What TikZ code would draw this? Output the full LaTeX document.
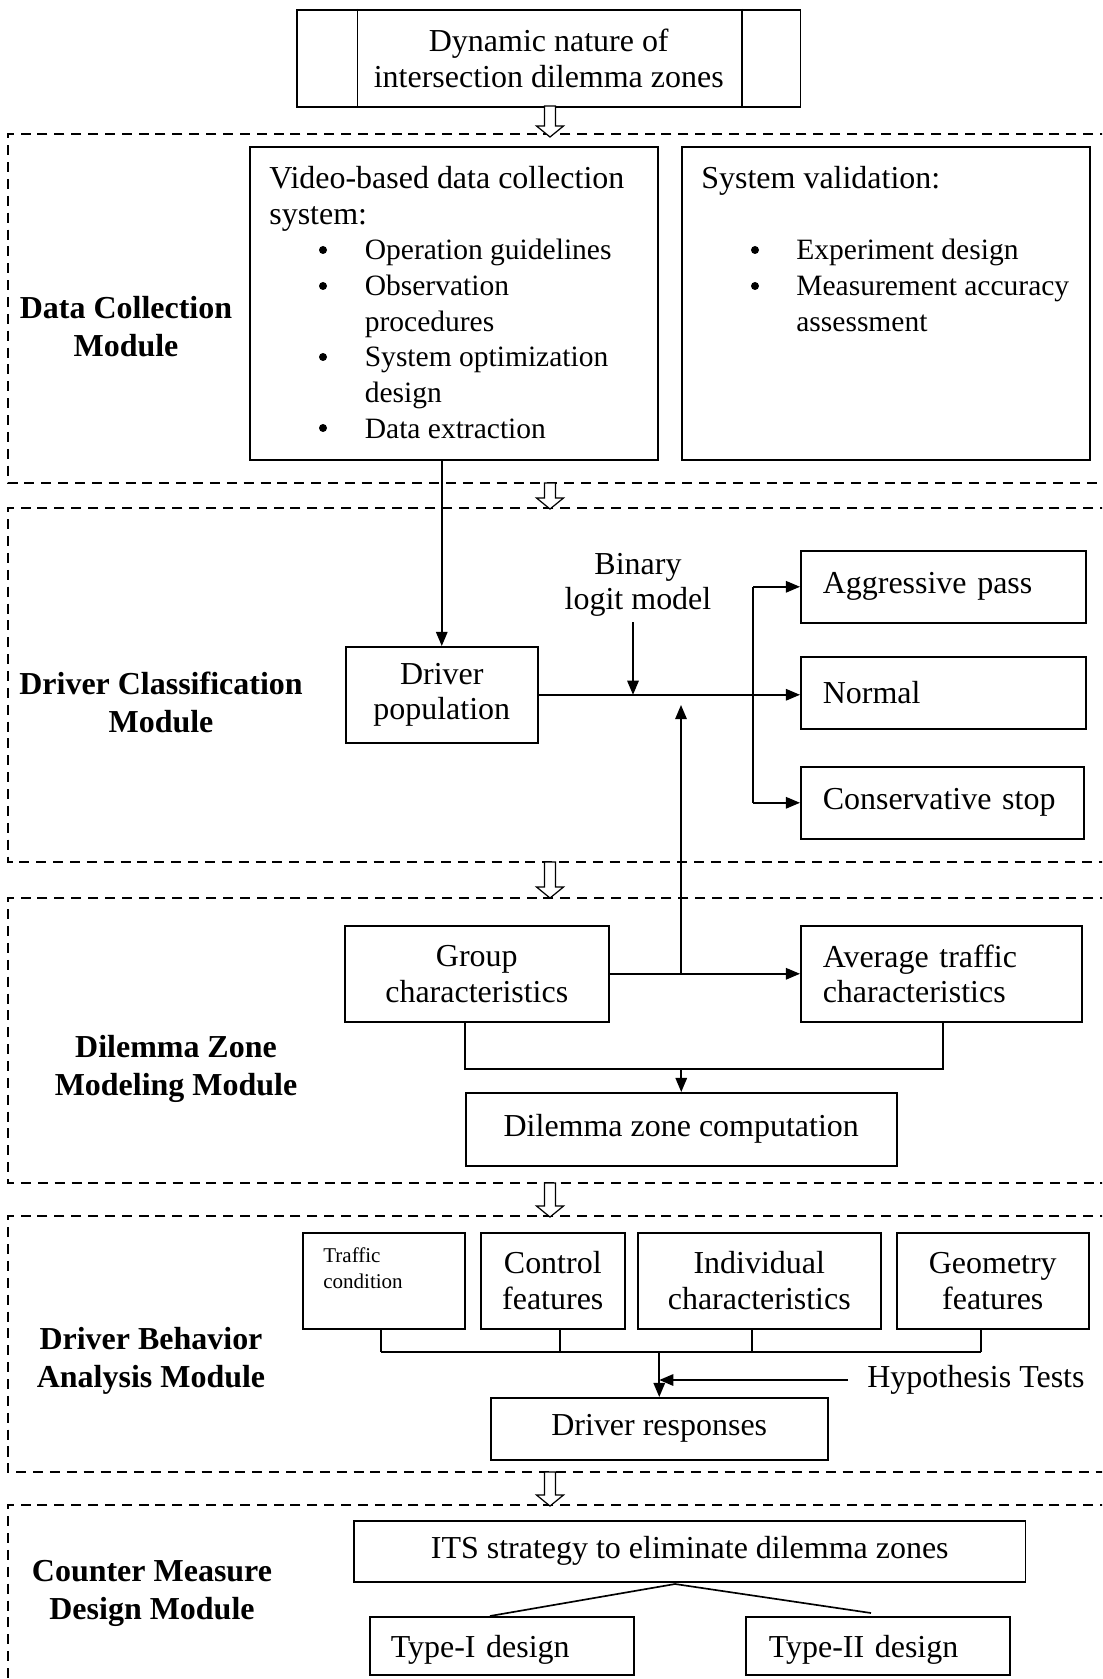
\documentclass[tikz,border=0pt]{standalone}
\usepackage{fontspec}
\setmainfont{Liberation Serif}
\usetikzlibrary{arrows.meta}
\newcommand\nf{\fontsize{18.2pt}{20.3pt}\selectfont}
\newcommand\itf{\fontsize{16.8pt}{20.3pt}\selectfont}
\newcommand\lf{\fontsize{18.2pt}{21.6pt}\selectfont\bfseries}
\newcommand\smallfnt{\fontsize{11.95pt}{14.8pt}\selectfont}
\newcommand\hollowarr[2]{\draw[hollow] (544.5,#1) -- (555.5,#1) -- (555.5,#2-11) -- (563.5,#2-11) -- (550,#2) -- (536.5,#2-11) -- (544.5,#2-11) -- cycle;}
\tikzset{
  box/.style={draw, line width=0.9pt, inner sep=0pt, font=\nf, align=center, anchor=north west},
  lbox/.style={box, align=left, inner xsep=0.44cm},
  mod/.style={line width=0.8pt, dash pattern=on 5.7pt off 3.9pt},
  conn/.style={line width=0.95pt},
  arr/.style={conn, -{Triangle[length=8pt,width=6.5pt]}},
  hollow/.style={draw, line width=0.7pt, fill=white},
  lbl/.style={font=\lf, align=center, inner sep=0pt},
  txt/.style={font=\nf, align=left, inner sep=0pt},
  stxt/.style={font=\smallfnt, align=left, inner sep=0pt},
  dot/.style={fill=black},
}
\begin{document}
\begin{tikzpicture}[x=0.02cm,y=-0.02cm]
\useasboundingbox (0,0) rectangle (1102,1679);
\clip (0,0) rectangle (1102,1679);

% module frames
\draw[mod] (1110,134) -- (8,134) -- (8,483) -- (1110,483);
\draw[mod] (1110,508) -- (8,508) -- (8,862) -- (1110,862);
\draw[mod] (1110,898) -- (8,898) -- (8,1183) -- (1110,1183);
\draw[mod] (1110,1216) -- (8,1216) -- (8,1472) -- (1110,1472);
\draw[mod] (1110,1505) -- (8,1505) -- (8,1690);

% top box
\node[box, minimum width=10.08cm, minimum height=1.94cm] (top) at (296,9) {Dynamic nature of\\intersection dilemma zones};
\draw[line width=0.9pt] ([xshift=1.23cm]top.north west) -- ([xshift=1.23cm]top.south west);
\draw[line width=0.9pt] ([xshift=-1.19cm]top.north east) -- ([xshift=-1.19cm]top.south east);

\hollowarr{106}{137}
\hollowarr{483}{509}
\hollowarr{862}{898}
\hollowarr{1183}{1217}
\hollowarr{1472}{1506}

% module 1
\node[box, minimum width=8.16cm, minimum height=6.26cm] (vid) at (249,146) {};
\node[txt, anchor=north west] (vidtxt) at (269,166) {Video-based data collection\\system:\\
{\itf\hspace*{1.91cm}Operation guidelines}\\
{\itf\hspace*{1.91cm}Observation}\\
{\itf\hspace*{1.91cm}procedures}\\
{\itf\hspace*{1.91cm}System optimization}\\
{\itf\hspace*{1.91cm}design}\\
{\itf\hspace*{1.91cm}Data extraction}};
\fill[dot] (323,250) circle[radius=0.08cm];
\fill[dot] (323,286) circle[radius=0.08cm];
\fill[dot] (323,357) circle[radius=0.08cm];
\fill[dot] (323,428) circle[radius=0.08cm];
\node[box, minimum width=8.16cm, minimum height=6.26cm] (sv) at (681,146) {};
\node[txt, anchor=north west] (svtxt) at (701,166) {System validation:\\~\\
{\itf\hspace*{1.90cm}Experiment design}\\
{\itf\hspace*{1.90cm}Measurement accuracy}\\
{\itf\hspace*{1.90cm}assessment}};
\fill[dot] (755,250) circle[radius=0.08cm];
\fill[dot] (755,286) circle[radius=0.08cm];
\node[lbl] (m1) at (126,327) {Data Collection\\Module};

% module 2
\node[box, minimum width=3.84cm, minimum height=1.92cm] (dp) at (345,646) {Driver\\population};
\node[txt, align=center] (bl) at (638,585) {Binary\\logit model};
\node[lbox, text width=4.82cm, minimum height=1.44cm] (agg) at (800,550) {Aggressive pass};
\node[lbox, text width=4.82cm, minimum height=1.44cm] (nrm) at (800,656) {Normal};
\node[lbox, text width=4.78cm, minimum height=1.44cm] (con) at (800,766) {Conservative stop};
\node[lbl] (m2) at (161,702) {Driver Classification\\Module};
\coordinate (blt) at (633,622);
\coordinate (br) at (753,693);
\draw[arr] (dp.north |- vid.south) -- (dp.north);
\draw[arr] (blt) -- (blt |- dp.east);
\draw[arr] (dp.east) -- (dp.east -| nrm.west);
\draw[conn] (br |- agg.west) -- (br |- con.west);
\draw[arr] (br |- agg.west) -- (agg.west);
\draw[arr] (br |- con.west) -- (con.west);

% module 3
\node[box, minimum width=5.28cm, minimum height=1.92cm] (grp) at (344,925) {Group\\characteristics};
\node[lbox, text width=4.74cm, minimum height=1.92cm] (avg) at (800,925) {Average traffic\\characteristics};
\node[box, minimum width=8.62cm, minimum height=1.46cm] (dz) at (465,1092) {Dilemma zone computation};
\node[lbl] (m3) at (176,1069) {Dilemma Zone\\Modeling Module};
\coordinate (upb) at (681,973);
\coordinate (upt) at (681,705);
\coordinate (j1) at (465,1069);
\coordinate (j2) at (943,1069);
\draw[arr] (grp.east) -- (avg.west);
\draw[arr] (upb) -- (upt);
\draw[conn] (grp.south -| j1) -- (j1) -- (j2) -- (avg.south -| j2);
\draw[arr] (dz.north |- j1) -- (dz.north);

% module 4
\node[box, minimum width=3.24cm, minimum height=1.92cm] (trf) at (302,1232) {};
\node[stxt, anchor=north west] (trftxt) at (323,1247) {Traffic\\condition};
\node[box, minimum width=2.88cm, minimum height=1.92cm] (ctl) at (480,1232) {Control\\features};
\node[box, minimum width=4.86cm, minimum height=1.92cm] (ind) at (637,1232) {Individual\\characteristics};
\node[box, minimum width=3.84cm, minimum height=1.92cm] (geo) at (896,1232) {Geometry\\features};
\node[box, minimum width=6.74cm, minimum height=1.24cm] (dr) at (490,1397) {Driver responses};
\node[txt, anchor=west, inner xsep=0.38cm] (hyp) at (848,1380) {Hypothesis Tests};
\node[lbl] (m4) at (151,1361) {Driver Behavior\\Analysis Module};
\coordinate (k1) at (381,1352);
\coordinate (k2) at (560,1352);
\coordinate (k3) at (752,1352);
\coordinate (k4) at (981,1352);
\draw[conn] (trf.south -| k1) -- (k1);
\draw[conn] (ctl.south -| k2) -- (k2);
\draw[conn] (ind.south -| k3) -- (k3);
\draw[conn] (geo.south -| k4) -- (k4);
\draw[conn] (k1) -- (k4);
\draw[arr] (dr.north |- k1) -- (dr.north);
\draw[arr] (hyp.west) -- (hyp.west -| dr.north);

% module 5
\node[box, minimum width=13.44cm, minimum height=1.22cm] (its) at (353,1520) {ITS strategy to eliminate dilemma zones};
\node[lbox, inner xsep=0.42cm, text width=4.44cm, minimum height=1.16cm, text height=0.52cm, text depth=0.04cm] (t1) at (369,1616) {Type-I design};
\node[lbox, inner xsep=0.46cm, text width=4.36cm, minimum height=1.16cm, text height=0.52cm, text depth=0.04cm] (t2) at (745,1616) {Type-II design};
\node[lbl] (m5) at (152,1593) {Counter Measure\\Design Module};
\coordinate (apx) at (675,1584);
\coordinate (e1) at (490,1616);
\coordinate (e2) at (871,1613);
\draw[conn] (e1) -- (apx) -- (e2);
\end{tikzpicture}
\end{document}
